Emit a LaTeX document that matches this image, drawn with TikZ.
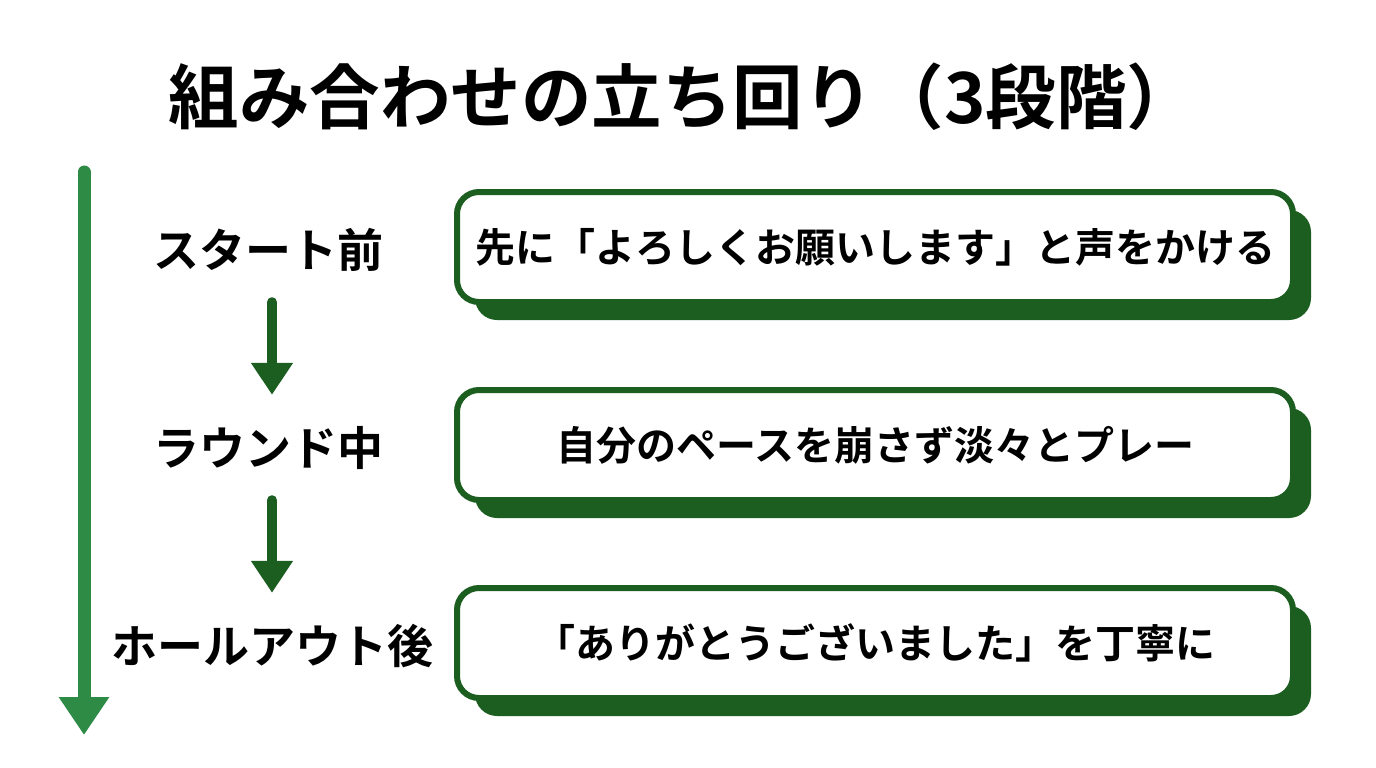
\documentclass[tikz,border=0pt]{standalone}
\usepackage{fontspec}
\setmainfont{Noto Sans CJK JP}[BoldFont={Noto Sans CJK JP Bold}]
\usetikzlibrary{arrows.meta,shadows}
\definecolor{bordergreen}{RGB}{27,94,32}
\definecolor{timegreen}{RGB}{46,139,70}
\begin{document}
\begin{tikzpicture}[x=1pt,y=-1pt,
    phase/.style={font=\bfseries\fontsize{46}{50}\selectfont, minimum height=80pt, inner sep=0pt},
    actionbox/.style={draw=bordergreen, line width=6pt, fill=white, rounded corners=22pt,
        minimum width=836pt, minimum height=110pt, inner sep=0pt,
        font=\bfseries\fontsize{40}{46}\selectfont,
        drop shadow={shadow xshift=18pt, shadow yshift=-18pt, fill=bordergreen, opacity=1}},
    steparrow/.style={bordergreen, line width=10pt, line cap=round,
        -{Triangle[width=40pt,length=32pt]}, shorten <=12pt, shorten >=13pt}]
  \useasboundingbox (0,0) rectangle (1376,768);
  \node [font=\bfseries\fontsize{70.5}{80}\selectfont] (title) at (683,97) {組み合わせの立ち回り（3段階）};
  \coordinate (timetop) at (84,172);
  \coordinate (timeend) at (84,735);
  \draw [timegreen, line width=13pt, line cap=round, -{Triangle[width=48pt,length=38pt]}] (timetop) -- (timeend);
  \node [phase] (before) at (268,250) {スタート前};
  \node [phase] (during) at (268,448) {ラウンド中};
  \node [phase] (after) at (272,646) {ホールアウト後};
  \node [actionbox] (greet) at (875,247) {先に「よろしくお願いします」と声をかける};
  \node [actionbox] (pace) at (875,445) {自分のペースを崩さず淡々とプレー};
  \node [actionbox] (thanks) at (875,643) {「ありがとうございました」を丁寧に};
  \draw [steparrow] (before.south -| 272,0) -- (during.north -| 272,0);
  \draw [steparrow] (during.south -| 272,0) -- (after);
\end{tikzpicture}
\end{document}
